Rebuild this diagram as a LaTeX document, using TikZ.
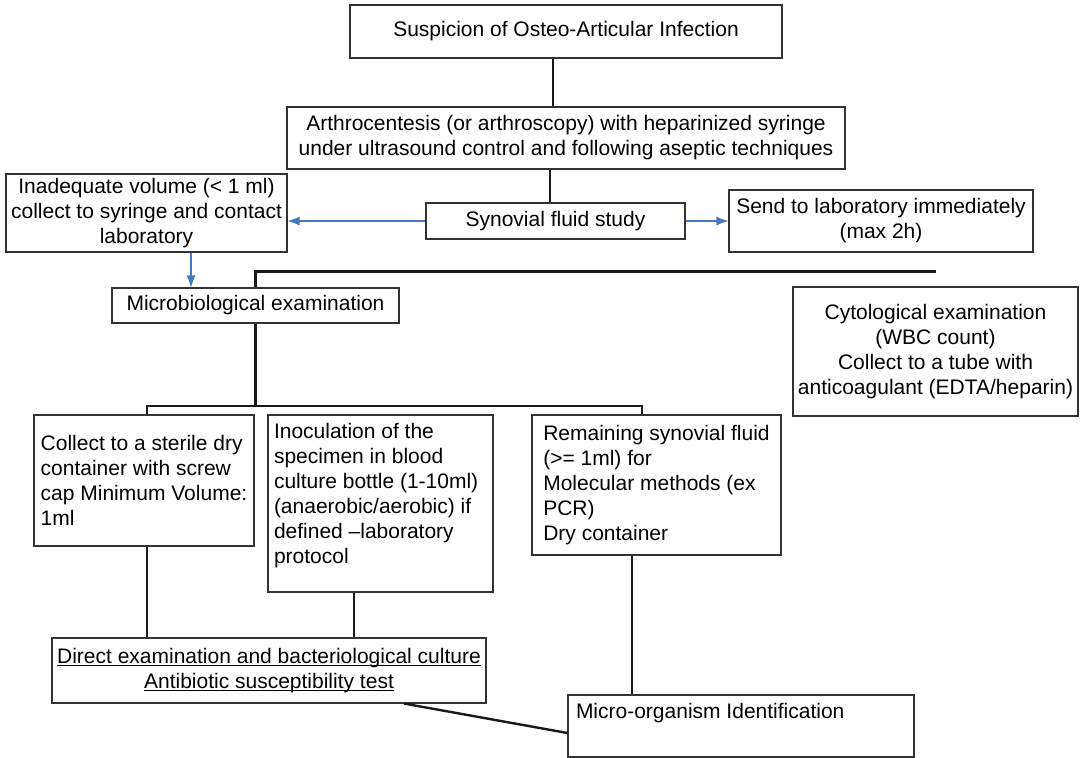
\documentclass[tikz,border=0pt]{standalone}
\usepackage{fontspec}
\setmainfont{Liberation Sans}
\usetikzlibrary{arrows.meta}
\definecolor{arrblue}{RGB}{70,120,190}
\newcommand{\topcell}[3]{\parbox[c][#2][t]{#1}{\raggedright #3}}
\newcommand{\uln}[1]{\underline{\smash{#1}}\vphantom{#1}}

\begin{document}
\begin{tikzpicture}[
  x=1pt, y=-1pt,
  p/.style={rectangle, draw=black!80, line width=1.1pt, inner sep=2pt, align=center},
  ln/.style={line width=2.4pt, black!90},
  arr/.style={-{Latex[length=12pt, width=9pt]}, arrblue, line width=1.1pt},
  font=\fontsize{21}{25}\selectfont
]
\useasboundingbox (0,0) rectangle (1080,758);
\node[p, minimum width=432pt, minimum height=53pt] (s) at (566,31.5) {Suspicion of Osteo-Articular Infection};
\node[p, minimum width=558pt, minimum height=62pt] (arth) at (566,138) {Arthrocentesis (or arthroscopy) with heparinized syringe\\under ultrasound control and following aseptic techniques};
\node[p, minimum width=281pt, minimum height=78pt] (inad) at (146.5,213) {Inadequate volume (< 1 ml)\\collect to syringe and contact\\laboratory};
\node[p, minimum width=259pt, minimum height=36pt] (syn) at (555.5,221) {Synovial fluid study};
\node[p, minimum width=304pt, minimum height=62pt] (send) at (881,221) {Send to laboratory immediately\\(max 2h)};
\node[p, minimum width=287pt, minimum height=35pt] (micb) at (255.5,305.5) {Microbiological examination};
\node[p, minimum width=285pt, minimum height=129pt] (cyto) at (935.5,351.5) {Cytological examination\\(WBC count)\\Collect to a tube with\\anticoagulant (EDTA/heparin)};
\node[p, align=left, minimum width=220pt, minimum height=131pt] (coll) at (144,480.5) {Collect to a sterile dry\\container with screw\\cap Minimum Volume:\\1ml};
\node[p, minimum width=225pt, minimum height=177pt] (inoc) at (380.5,503.5) {\topcell{213pt}{160pt}{Inoculation of the\\specimen in blood\\culture bottle (1-10ml)\\(anaerobic/aerobic) if\\defined –laboratory\\protocol}};
\node[p, align=left, minimum width=249pt, minimum height=140pt] (rem) at (656.5,485) {Remaining synovial fluid\\(>= 1ml) for\\Molecular methods (ex\\PCR)\\Dry container};
\node[p, minimum width=434pt, minimum height=65pt] (dir) at (269,670.5) {\uln{Direct examination and bacteriological culture}\\\uln{Antibiotic susceptibility test}};
\node[p, minimum width=346pt, minimum height=62pt] (micro) at (741,726) {\topcell{330pt}{46pt}{Micro-organism Identification}};
\coordinate (fork) at (255.5,406);
\draw[ln] ([xshift=-13pt]s.south) -- ([xshift=-13pt]arth.north);
\draw[ln] ([xshift=-16pt]arth.south) -- ([xshift=-5.5pt]syn.north);
\draw[arr] (syn.west) -- (syn.west -| inad.east);
\draw[arr] (syn.east) -- (syn.east -| send.west);
\draw[arr] ([xshift=44.5pt]inad.south) -- ([xshift=-64.5pt]micb.north);
\draw[ln] (micb.north) |- ([yshift=15pt]cyto.north);
\draw[ln] (micb.south) -- (fork);
\draw[ln] ([xshift=3pt]coll.north) |- (fork) -| ([xshift=-14.5pt]rem.north);
\draw[ln] ([xshift=3pt]coll.south) -- ([xshift=-122pt]dir.north);
\draw[ln] ([xshift=-26.5pt]inoc.south) -- ([xshift=85pt]dir.north);
\draw[ln] ([xshift=-24.5pt]rem.south) -- ([xshift=-109pt]micro.north);
\draw[ln] ([xshift=135pt]dir.south) -- ([yshift=-7pt]micro.west);
\end{tikzpicture}
\end{document}
